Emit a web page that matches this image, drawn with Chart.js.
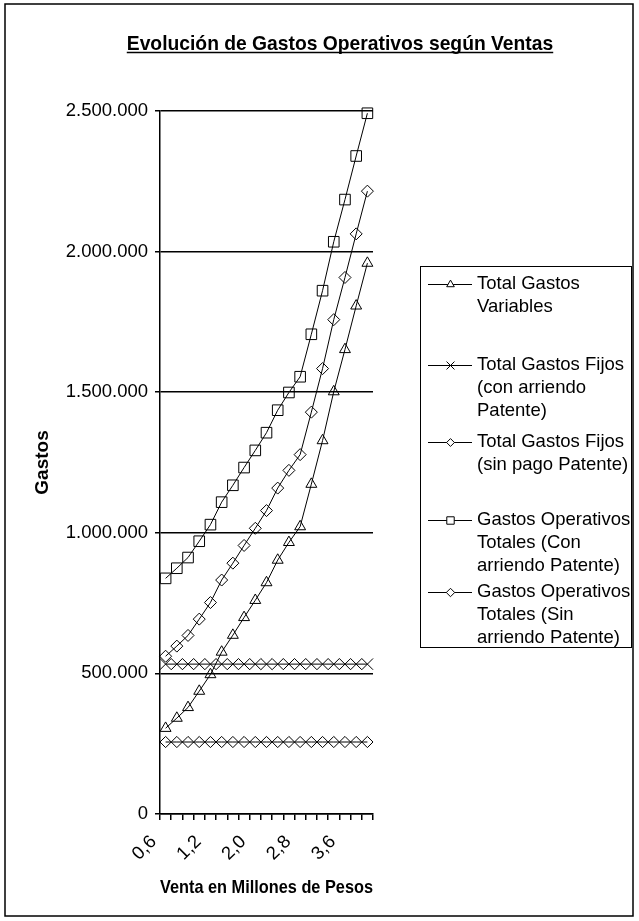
<!DOCTYPE html>
<html>
<head>
<meta charset="utf-8">
<script src="https://cdn.jsdelivr.net/npm/chart.js@4/dist/chart.umd.min.js"></script>
<style>
  html, body { margin: 0; padding: 0; background: #fff; }
  canvas { display: block; }
</style>
</head>
<body>
<canvas id="grafico" width="639" height="921"></canvas>
<script>
// Ventas (millones de pesos) por categoría del eje X
const ventas = [0.6, 0.75, 0.9, 1.05, 1.2, 1.4, 1.6, 1.8, 2.0, 2.2, 2.4, 2.6, 2.8, 3.0, 3.2, 3.4, 3.6, 3.8, 4.0];
const cadaEtiqueta = 4; // una etiqueta cada 4 categorías

// Series de gastos (pesos)
const gastosVariables = [305000, 341000, 379000, 437000, 496000, 576000, 636000, 699000, 760000, 823000, 903000, 966000, 1022000, 1173000, 1328000, 1502000, 1652000, 1807000, 1959000];
const gastosFijosConArriendo = [533000, 533000, 533000, 533000, 533000, 533000, 533000, 533000, 533000, 533000, 533000, 533000, 533000, 533000, 533000, 533000, 533000, 533000, 533000];
const gastosFijosSinPatente = [256000, 256000, 256000, 256000, 256000, 256000, 256000, 256000, 256000, 256000, 256000, 256000, 256000, 256000, 256000, 256000, 256000, 256000, 256000];
const operativosConArriendo = [838000, 874000, 912000, 970000, 1029000, 1109000, 1169000, 1232000, 1293000, 1356000, 1436000, 1499000, 1555000, 1706000, 1861000, 2035000, 2185000, 2340000, 2492000];
const operativosSinArriendo = [561000, 597000, 635000, 693000, 752000, 832000, 892000, 955000, 1016000, 1079000, 1159000, 1222000, 1278000, 1429000, 1584000, 1758000, 1908000, 2063000, 2215000];

// Eje Y
const ejeYMax = 2500000;
const ejeYPaso = 500000;

// Nombres de las series (por líneas, tal como aparecen en la leyenda)
const nombresSeries = [
  ['Total Gastos', 'Variables'],
  ['Total Gastos Fijos', '(con arriendo', 'Patente)'],
  ['Total Gastos Fijos', '(sin pago Patente)'],
  ['Gastos Operativos', 'Totales (Con', 'arriendo Patente)'],
  ['Gastos Operativos', 'Totales (Sin', 'arriendo Patente)']
];

const titulo = 'Evolución de Gastos Operativos según Ventas';
const tituloX = 'Venta en Millones de Pesos';
const tituloY = 'Gastos';

const FUENTE = "'Liberation Sans', Arial, Helvetica, sans-serif";
const etiquetasX = ventas.map(v => v.toFixed(1).replace('.', ','));
const miles = v => String(v).replace(/\B(?=(\d{3})+(?!\d))/g, '.');

function serie(idx, datos, estilo, radio) {
  return {
    label: nombresSeries[idx].join(' '),
    data: datos,
    borderColor: '#000',
    borderWidth: 1,
    backgroundColor: 'rgba(0,0,0,0)',
    pointStyle: estilo,
    pointRadius: radio,
    pointHoverRadius: radio,
    pointBorderColor: '#000',
    pointBackgroundColor: 'rgba(0,0,0,0)',
    pointBorderWidth: 1,
    tension: 0,
    clip: false
  };
}

const series = [
  serie(0, gastosVariables, 'triangle', 6.3),
  serie(1, gastosFijosConArriendo, 'crossRot', 8),
  serie(2, gastosFijosSinPatente, 'rectRot', 5.6),
  serie(3, operativosConArriendo, 'rect', 7.5),
  serie(4, operativosSinArriendo, 'rectRot', 6)
];

// Posición vertical de la primera línea de cada entrada de la leyenda
const leyendaY = [284, 365, 442, 520, 592];
const leyendaInterlinea = 23;

const decoracion = {
  id: 'decoracion',
  afterDraw(chart) {
    const ctx = chart.ctx;
    ctx.save();
    // marco exterior
    ctx.strokeStyle = '#000';
    ctx.lineWidth = 1.5;
    ctx.strokeRect(5, 4, 628, 912);

    // título subrayado
    ctx.fillStyle = '#000';
    ctx.font = 'bold 19.3px ' + FUENTE;
    ctx.textAlign = 'center';
    ctx.textBaseline = 'alphabetic';
    const tx = 340, ty = 50;
    ctx.fillText(titulo, tx, ty);
    const w = ctx.measureText(titulo).width;
    ctx.lineWidth = 1.5;
    ctx.beginPath();
    ctx.moveTo(tx - w / 2, ty + 2.5);
    ctx.lineTo(tx + w / 2, ty + 2.5);
    ctx.stroke();

    // leyenda
    ctx.lineWidth = 1;
    ctx.strokeRect(420.5, 266.5, 211, 381);
    ctx.font = '18.5px ' + FUENTE;
    ctx.textAlign = 'left';
    ctx.textBaseline = 'middle';
    chart.data.datasets.forEach((ds, i) => {
      const y = leyendaY[i];
      ctx.strokeStyle = '#000';
      ctx.lineWidth = 1;
      ctx.beginPath();
      ctx.moveTo(428, y + 0.5);
      ctx.lineTo(472, y + 0.5);
      ctx.stroke();
      ctx.fillStyle = '#fff';
      Chart.helpers.drawPoint(ctx, {
        pointStyle: ds.pointStyle,
        radius: ds.pointRadius * 0.7,
        borderWidth: 1,
        rotation: 0
      }, 450.5, y + 0.5);
      ctx.fillStyle = '#000';
      nombresSeries[i].forEach((linea, k) => {
        ctx.fillText(linea, 477, y + k * leyendaInterlinea);
      });
    });
    ctx.restore();
  }
};

new Chart(document.getElementById('grafico'), {
  type: 'line',
  data: { labels: etiquetasX, datasets: series },
  options: {
    responsive: false,
    animation: false,
    events: [],
    layout: { padding: { left: 5, right: 266, top: 111, bottom: 5 } },
    plugins: { legend: { display: false }, title: { display: false }, tooltip: { enabled: false } },
    scales: {
      x: {
        type: 'category',
        offset: true,
        grid: { display: true, offset: true, drawOnChartArea: false, drawTicks: true, tickLength: 6, color: '#000', lineWidth: 1.5 },
        border: { display: true, color: '#000', width: 1.5 },
        ticks: {
          autoSkip: false,
          minRotation: 45,
          maxRotation: 45,
          padding: 11,
          labelOffset: -12,
          color: '#000',
          font: { family: FUENTE, size: 18.5 },
          callback: (v, i) => (i % cadaEtiqueta === 0 ? etiquetasX[i] : '')
        },
        title: {
          display: true,
          text: tituloX,
          color: '#000',
          font: { family: FUENTE, size: 19, weight: 'bold' },
          padding: { top: 4, bottom: 17 }
        },
        afterFit: s => { s.height = 102; }
      },
      y: {
        min: 0,
        max: ejeYMax,
        grid: { color: '#000', lineWidth: 1.5, drawTicks: true, tickLength: 5 },
        border: { display: true, color: '#000', width: 1.5 },
        ticks: {
          stepSize: ejeYPaso,
          padding: 7,
          color: '#000',
          font: { family: FUENTE, size: 18.5 },
          callback: v => miles(v)
        },
        title: {
          display: true,
          text: tituloY,
          color: '#000',
          font: { family: FUENTE, size: 19, weight: 'bold' },
          padding: { top: 26, bottom: 0 }
        },
        afterFit: s => { s.width = 155; }
      }
    }
  },
  plugins: [decoracion]
});
</script>
</body>
</html>
